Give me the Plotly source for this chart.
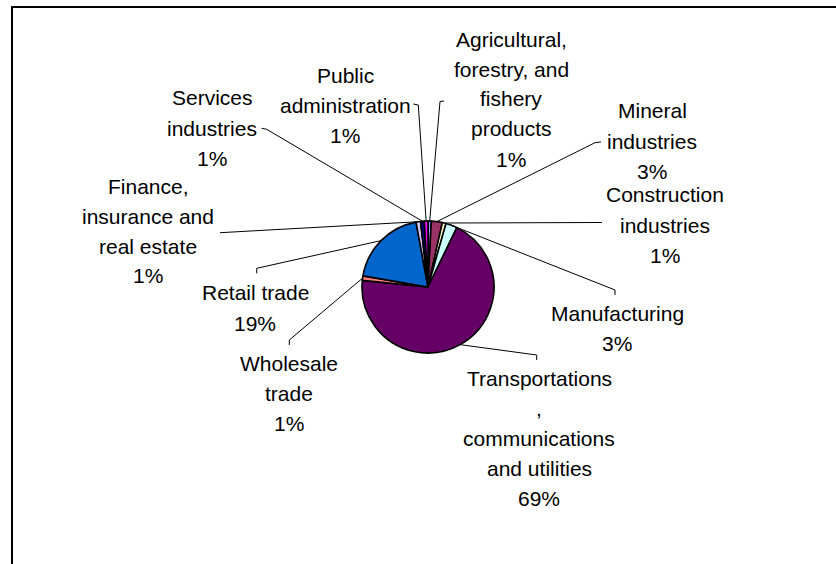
import math
import plotly.graph_objects as go

# ---- data ----
industries = [
    "Agricultural, forestry, and fishery products",
    "Mineral industries",
    "Construction industries",
    "Manufacturing",
    "Transportations, communications and utilities",
    "Wholesale trade",
    "Retail trade",
    "Finance, insurance and real estate",
    "Services industries",
    "Public administration",
]
shares = [0.8, 2.7, 0.9, 2.8, 69.4, 1.1, 19.4, 1.1, 0.9, 0.9]
label_lines = [
    ["Agricultural,", "forestry, and", "fishery", "products"],
    ["Mineral", "industries"],
    ["Construction", "industries"],
    ["Manufacturing"],
    ["Transportations", ",", "communications", "and utilities"],
    ["Wholesale", "trade"],
    ["Retail trade"],
    ["Finance,", "insurance and", "real estate"],
    ["Services", "industries"],
    ["Public", "administration"],
]
slice_colors = ["#9999FF", "#993366", "#FFFFCC", "#CCFFFF", "#660066",
                "#FF8080", "#0066CC", "#CCCCFF", "#000080", "#FF00FF"]

# ---- layout (pixels) ----
W, H = 836, 564
CX, CY, R = 428, 287, 66
FONT_SIZE = 21
LINE_STEP = 30

# label block: (center x, first line y), leader elbow points from slice outward
label_layout = [
    ((511, 39), [(440, 101.5), (444, 101)]),
    ((652, 111), [(595, 142.7), (601, 142)]),
    ((665, 195), [(602, 222.5)]),
    ((617, 313), [(615, 290), (615, 295)]),
    ((539, 378), [(536.7, 355), (536.7, 360)]),
    ((289, 363), [(289.3, 340), (289.3, 345)]),
    ((255, 293), [(256.7, 268.3), (256.7, 273.3)]),
    ((148, 186), [(220, 232.7)]),
    ((212, 98), [(266.7, 129.3), (261.7, 128.3)]),
    ((345, 75), [(418.3, 105), (413.3, 104)]),
]


def px(x):
    return x / W


def py(y):
    return 1 - y / H


fig = go.Figure()
fig.add_trace(go.Pie(
    labels=industries,
    values=shares,
    sort=False,
    direction="clockwise",
    rotation=0,
    textinfo="none",
    hoverinfo="label+percent",
    marker=dict(colors=slice_colors, line=dict(color="black", width=1.6)),
    domain=dict(x=[px(CX - R), px(CX + R)], y=[py(CY + R), py(CY - R)]),
    showlegend=False,
))

total = sum(shares)
annotations = []
shapes = []
cum = 0.0
for value, lines, ((lx, ly), elbow) in zip(shares, label_lines, label_layout):
    mid = (cum + value / 2) / total * 2 * math.pi
    cum += value
    pct = round(value / total * 100)
    text_lines = lines + [f"{pct}%"]
    for i, t in enumerate(text_lines):
        annotations.append(dict(
            x=px(lx), y=py(ly + i * LINE_STEP), xref="paper", yref="paper",
            text=t, showarrow=False, xanchor="center", yanchor="middle",
            font=dict(family="Liberation Sans, Arial", size=FONT_SIZE, color="black"),
        ))
    # leader line from the slice edge to the label
    sx = CX + R * math.sin(mid)
    sy = CY - R * math.cos(mid)
    pts = [(sx, sy)] + elbow
    path = "M " + " L ".join(f"{px(x):.5f},{py(y):.5f}" for x, y in pts)
    shapes.append(dict(type="path", path=path, xref="paper", yref="paper",
                       line=dict(color="black", width=1)))

# chart area frame
shapes.append(dict(type="rect", xref="paper", yref="paper",
                   x0=px(12), x1=1.05, y0=-0.05, y1=py(7),
                   line=dict(color="black", width=2), fillcolor="rgba(0,0,0,0)"))

fig.update_layout(
    width=W, height=H,
    margin=dict(l=0, r=0, t=0, b=0),
    paper_bgcolor="white", plot_bgcolor="white",
    annotations=annotations,
    shapes=shapes,
)
fig.write_html("out.html")
